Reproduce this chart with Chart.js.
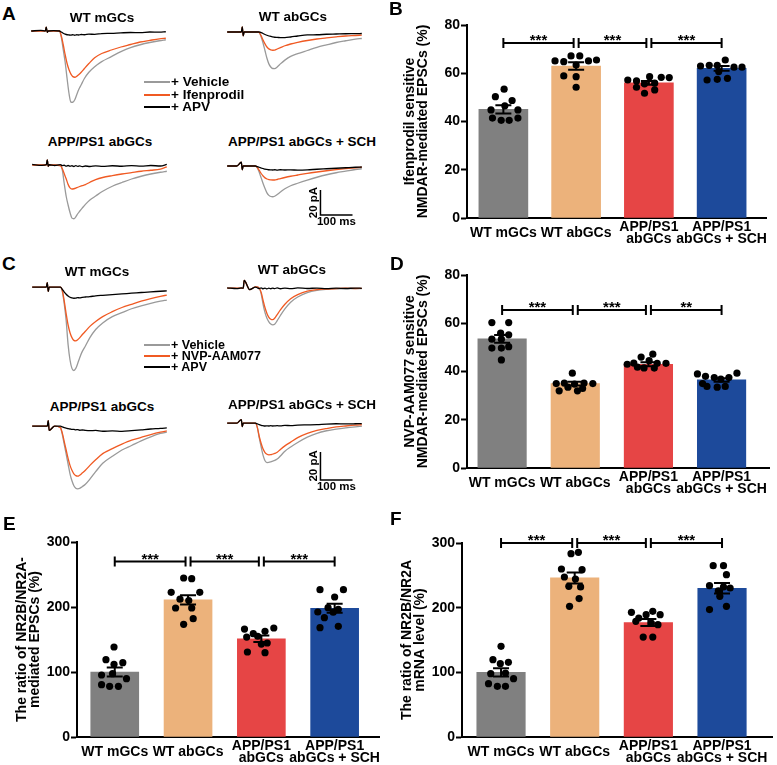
<!DOCTYPE html>
<html lang="en">
<head>
<meta charset="UTF-8">
<title>NR2B/NR2A EPSCs</title>
<script src="https://cdn.jsdelivr.net/npm/chart.js@4.4.1/dist/chart.umd.min.js"></script>
<style>
  body { margin: 0; background: #fff; }
  .fig { position: relative; width: 777px; height: 765px; overflow: hidden;
         font-family: "Liberation Sans", Arial, sans-serif; font-weight: bold; color: #000; }
  .fig canvas { position: absolute; }
  .letter { position: absolute; font-size: 19px; line-height: 1; }
  .title { position: absolute; font-size: 13.5px; line-height: 1; white-space: nowrap; transform: translate(-50%, -50%); }
  .leg { position: absolute; left: 144px; height: 14px; display: flex; align-items: center; white-space: nowrap; line-height: 1; }
  .leg i { display: inline-block; width: 26px; height: 2.5px; margin-right: 1px; }
</style>
</head>
<body>
<div class="fig">
  <canvas id="a1" width="141" height="90" style="left:28px;top:21px"></canvas>
  <canvas id="a2" width="141" height="90" style="left:224px;top:22px"></canvas>
  <canvas id="a3" width="141" height="90" style="left:29px;top:155px"></canvas>
  <canvas id="a4" width="141" height="90" style="left:224px;top:156px"></canvas>
  <canvas id="c1" width="141" height="98" style="left:29px;top:276px"></canvas>
  <canvas id="c2" width="141" height="98" style="left:224px;top:277px"></canvas>
  <canvas id="c3" width="141" height="98" style="left:29px;top:415px"></canvas>
  <canvas id="c4" width="141" height="98" style="left:224px;top:412px"></canvas>

  <canvas id="chartB" width="387" height="250" style="left:390px;top:0px"></canvas>
  <canvas id="chartD" width="387" height="250" style="left:390px;top:250px"></canvas>
  <canvas id="chartE" width="390" height="265" style="left:0px;top:500px"></canvas>
  <canvas id="chartF" width="387" height="265" style="left:390px;top:500px"></canvas>

  <div class="letter" style="left:2px;top:4px">A</div>
  <div class="letter" style="left:389px;top:-1px">B</div>
  <div class="letter" style="left:2px;top:254px">C</div>
  <div class="letter" style="left:390px;top:254px">D</div>
  <div class="letter" style="left:3px;top:514px">E</div>
  <div class="letter" style="left:390px;top:509px">F</div>

  <div class="title" style="left:102px;top:18px">WT mGCs</div>
  <div class="title" style="left:293px;top:17px">WT abGCs</div>
  <div class="title" style="left:100px;top:142px">APP/PS1 abGCs</div>
  <div class="title" style="left:302px;top:142px">APP/PS1 abGCs + SCH</div>
  <div class="title" style="left:97px;top:272px">WT mGCs</div>
  <div class="title" style="left:292px;top:270px">WT abGCs</div>
  <div class="title" style="left:102px;top:407px">APP/PS1 abGCs</div>
  <div class="title" style="left:302px;top:405px">APP/PS1 abGCs + SCH</div>

  <div class="leg" style="top:75px;font-size:13.5px"><i style="background:#9a9a9a"></i>+ Vehicle</div>
  <div class="leg" style="top:88px;font-size:13.5px"><i style="background:#f05a23"></i>+ Ifenprodil</div>
  <div class="leg" style="top:100px;font-size:13.5px"><i style="background:#000"></i>+ APV</div>
  <div class="leg" style="top:338px;font-size:12.5px"><i style="background:#9a9a9a"></i>+ Vehicle</div>
  <div class="leg" style="top:349px;font-size:12.5px"><i style="background:#f05a23"></i>+ NVP-AAM077</div>
  <div class="leg" style="top:360px;font-size:12.5px"><i style="background:#000"></i>+ APV</div>
</div>

<script>
// ---- trace data (time in ms, current in pA) ----
const traceTime = [0, 30, 44, 47, 50, 53, 70, 88, 94, 100, 106, 112, 118, 124, 130, 136, 142, 148, 156, 166, 180, 198, 220, 250, 280, 310, 340, 370, 400, 420];

// A: ifenprodil
const aWtmVeh  = [0, 0, 0, 3, -1, 0, 0, 0, -5, -15, -25, -38, -50, -57, -57, -55, -51, -47, -43, -38, -33, -28.6, -24.5, -20.5, -16.5, -13.3, -11, -9.2, -7.8, -7];
const aWtmIfen = [0, 0, 0, 3, -1, 0, 0, 0, -4, -11, -19, -26, -31, -34.5, -36.5, -37, -36.3, -35, -33, -30, -26, -21.4, -18, -15.2, -12.8, -10.8, -8.8, -7.5, -6.3, -5.8];
const aWtmApv  = [0, 0.5, 0, 3, -1, 0, 0.3, 0, -0.8, -1.8, -2.5, -3, -3.2, -3.3, -3, -3.4, -3, -3.2, -2.8, -3, -2.5, -2.7, -2.1, -1.9, -1.5, -1.2, -1.3, -0.8, -0.9, -0.6];

const aWtaVeh  = [0, 0, 0, 4, -3, 0, 0, 0, 0, -0.5, -4, -9, -15, -21, -25.5, -28, -29.2, -29.3, -28, -25.5, -22.5, -19.5, -17.3, -14.8, -12.3, -10.3, -8.4, -7, -5.7, -5.2];
const aWtaIfen = [0, 0, 0, 4, -3, 0, 0, 0, 0, -0.5, -3, -6.5, -9.5, -12, -13.5, -14.3, -14.6, -14.5, -13.6, -12.5, -11, -9.6, -8.3, -6.8, -5.6, -4.7, -3.9, -3.2, -2.8, -2.5];
const aWtaApv  = [0, 0, 0, 4, -3, 0, 0, 0, 0, 0, -0.5, -1.2, -2, -2.6, -3.2, -3.5, -3.9, -4.2, -4.3, -4.5, -4.5, -4, -3.2, -2.3, -2.2, -1.8, -1.6, -1.4, -1.3, -1.2];

const aAppVeh  = [0, 0, 0, 4, -1, 0, 0, -0.5, -4, -15, -25, -32, -38, -42.5, -43, -41.5, -39, -37, -34.5, -31.5, -28, -24.8, -21, -17, -14, -11.2, -9, -7.2, -5.8, -5];
const aAppIfen = [0, 0, 0, 4, -1, 0, 0, -0.5, -3, -7, -11, -15.5, -18.3, -19.2, -19, -18.5, -17.8, -17.2, -16.5, -15.7, -13.8, -11.7, -10, -8.5, -7.2, -6.1, -5, -4.2, -3.3, -1.5];
const aAppApv  = [0.5, -0.3, 0.3, 4, -1, 0.2, -0.4, 0.3, -0.5, -0.2, -0.9, -0.4, -1, -0.6, -1.2, -0.5, -1.1, -0.7, -1.3, -0.8, -1.2, -0.7, -1.1, -0.6, -1, -0.5, -0.9, -0.4, -0.8, 0.5];

const aSchVeh  = [0, 0, 3, -3, 0, 0, 0, 0, -1.5, -5, -9.5, -14, -18, -21.5, -23.5, -24.4, -24.6, -24.2, -22.8, -20.8, -18.2, -15.8, -13.8, -11.3, -9, -7, -5.4, -4.1, -2.8, -2.2];
const aSchIfen = [0, 0, 3, -3, 0, 0, 0, 0, -1.2, -3.5, -6, -8, -9.5, -10.4, -10.9, -11.1, -11.2, -11.2, -10.8, -10.1, -9.2, -8.2, -7.2, -5.9, -4.8, -3.8, -2.9, -2.1, -1.4, -1];
const aSchApv  = [0, 0, 3, -3, 0, 0, 0, 0, -0.5, -1, -1.6, -2, -2.5, -2.7, -3, -3.1, -3.2, -3, -3.3, -3, -3.2, -3.1, -3.3, -3.1, -2.6, -2.2, -1.8, -1.4, -1, -0.8];

// C: NVP-AAM077
const cWtmVeh = [0, 0, 0, 3.3, -3, 0, 0, 0, -3, -12, -24, -41, -52, -58, -59.5, -58, -54.5, -50.5, -46, -42, -36, -30.2, -25.5, -21, -18.2, -15.4, -13.3, -11.5, -10, -9.2];
const cWtmNvp = [0, 0, 0, 3.3, -3, 0, 0, 0, -2.5, -10, -19, -27, -32.5, -36, -38, -38.3, -37.5, -36.2, -34, -31.5, -28, -24.5, -21, -17.5, -14.5, -12.2, -10, -8.2, -6.6, -5.6];
const cWtmApv = [0, 0, 0, 3.3, -3, 0, 0, 0, -1.5, -3.5, -5, -6.3, -7.2, -7.7, -7.9, -7.8, -7.5, -7.6, -7.2, -7, -6.7, -6.2, -5.8, -5.3, -4.8, -4.3, -3.8, -3.3, -2.9, -2.6];

const cWtaVeh = [0, 0, 0, 0, 0, 5.5, -1, 1, 1, 0, -4, -11.5, -17.5, -21.5, -24, -25.6, -26.2, -25.8, -23.2, -19.5, -14.8, -10, -6.3, -3.1, -1.5, -0.8, -0.5, -0.3, -0.3, -0.2];
const cWtaNvp = [0, 0, 0, 0, 0, 5.5, -1, 1, 1, 0, -3, -8.8, -14, -18, -20.8, -22.2, -22.5, -21.5, -18.8, -15.5, -11.5, -7.5, -4.6, -2.1, -1, -0.6, -0.3, 0, -0.2, -0.1];
const cWtaApv = [0.3, -0.3, 0.2, 0, 0, 5.5, -1, 0.8, 0.3, -0.3, 0.2, -0.4, 0.1, -0.5, 0, -0.4, 0.1, -0.3, 0.2, -0.4, 0, -0.3, 0.2, -0.2, 0.1, -0.3, 0, -0.2, 0.1, -0.1];

const cAppVeh = [0, 0, 0, 0, 4, -3, 0, -1, -6, -13, -20, -27, -34, -39, -42.5, -44.3, -44.7, -44.4, -43.2, -41.5, -37.8, -32.5, -26.5, -21.5, -17, -13.8, -10.5, -7.6, -5.2, -4.2];
const cAppNvp = [0, 0, 0, 0, 4, -3, 0, -1, -5, -11, -17, -23, -28, -31.5, -34, -35.3, -35.7, -35, -33.5, -31.5, -28, -24, -19.6, -16, -12.8, -10, -8, -6, -4.3, -3.4];
const cAppApv = [0, 0, 0, 0, 4, -3, 0, 0, -0.5, -1, -1.3, -1.8, -2, -2.3, -2.2, -2.6, -2.4, -2.9, -2.7, -3, -3.2, -3, -3.6, -3.3, -3.7, -3.2, -2.6, -2, -1.6, -1.2];

const cSchVeh = [0, 0, 2.5, -2.5, 0, 0, 0, 0, -3, -10.5, -17, -23, -26.8, -28.1, -28, -27.6, -27.1, -26.6, -25.6, -23.4, -20, -17, -13.8, -10, -7.2, -5.4, -4.2, -3.3, -2.6, -2.2];
const cSchNvp = [0, 0, 2.5, -2.5, 0, 0, 0, 0, -3, -9.5, -14.5, -18.5, -21, -22.2, -22.6, -22.5, -22, -21.6, -20.8, -18.7, -16.2, -13.5, -10.3, -7.3, -5.2, -3.8, -2.7, -2, -1.4, -1.1];
const cSchApv = [0, 0, 2.5, -2.5, 0, 0, 0, 0, -0.5, -1, -1.5, -1.8, -2, -1.9, -2, -1.8, -2, -1.9, -1.8, -1.9, -1.6, -1.7, -1.4, -1.2, -1, -0.6, -0.4, -0.5, -0.4, -0.3];

const scaleBarMs = 100;
const scaleBarPa = 20;

// ---- bar panels ----
const groupLabels = ['WT mGCs', 'WT abGCs', ['APP/PS1', 'abGCs'], ['APP/PS1', 'abGCs + SCH']];

const ifenMean = [45, 63, 56, 62];
const ifenSem = [1.7, 1.6, 0.8, 1.0];
const ifenDots = [
  [53.4, 50.3, 48.7, 46.5, 44.8, 44.8, 41.4, 40.5, 40.5, 41.4],
  [65.1, 67.2, 67.2, 65.1, 65.5, 64.8, 63.4, 58.9, 58.6, 54.2],
  [57.2, 56.8, 58.6, 58.3, 58.2, 55.6, 55.9, 54.2, 51.7, 53.1],
  [63, 63.3, 63.3, 65.5, 62.5, 62.5, 60.7, 57.2, 57.5, 57.9]
];
const ifenJitter = [
  [0.01, -0.11, 0.12, 0.02, -0.17, 0.2, -0.15, -0.03, 0.08, 0.2],
  [-0.29, -0.07, 0.05, 0.17, 0.28, -0.17, 0, -0.17, 0, 0],
  [-0.29, -0.17, 0.01, 0.17, 0.28, -0.06, 0.08, -0.17, -0.06, 0.08],
  [-0.29, -0.17, -0.06, 0.05, 0.17, 0.28, -0.04, -0.2, -0.06, 0.08]
];
const ifenStars = ['***', '***', '***'];

const nvpMean = [53.5, 35, 43, 36.5];
const nvpSem = [1.6, 0.8, 0.8, 0.7];
const nvpDots = [
  [60.3, 60.3, 55.9, 55.2, 53.4, 53.4, 50.3, 49.7, 49.7, 44.8],
  [39.3, 35, 35.2, 34.8, 35.2, 35, 33.5, 33, 32, 32],
  [47.2, 46, 44.5, 43.5, 43.4, 43.4, 43, 41.5, 41.4, 41.8],
  [39, 38, 37.5, 36.8, 37.5, 39.3, 35, 33.8, 33.5, 33.8]
];
const nvpJitter = [
  [-0.14, 0.09, -0.02, 0.09, -0.14, -0.01, 0.09, -0.14, -0.01, -0.01],
  [-0.04, -0.26, -0.15, -0.01, 0.12, 0.24, -0.1, 0.1, -0.22, 0.03],
  [0.06, -0.1, 0.01, -0.2, 0.12, 0.24, -0.29, -0.06, 0.08, -0.15],
  [-0.33, -0.22, -0.1, -0.01, 0.1, 0.21, -0.26, -0.2, -0.06, 0.05]
];
const nvpStars = ['***', '***', '**'];

const epscMean = [100, 211, 151, 198];
const epscSem = [7, 7, 5, 7];
const epscDots = [
  [138.5, 119, 111.8, 114.4, 95.4, 97.4, 89.7, 80.5, 77.9, 77.9],
  [244.6, 243.6, 222.6, 222.6, 212, 210, 198.5, 198.5, 182, 173.3],
  [166, 159, 162.6, 167.7, 153.8, 155, 144.6, 143, 130.8, 129.7],
  [226.7, 226.7, 215.4, 199, 196.4, 192.3, 192, 183.6, 168.2, 170.3]
];
const epscJitter = [
  [-0.01, -0.12, -0.01, 0.11, -0.18, -0.03, 0.16, -0.18, -0.07, 0.05],
  [-0.06, 0.05, -0.23, 0.16, -0.11, 0.01, -0.17, 0.05, 0.07, -0.06],
  [-0.23, -0.11, 0.05, 0.17, -0.2, -0.05, 0.08, 0, -0.19, 0.05],
  [-0.2, 0.12, 0, -0.09, 0.05, -0.23, -0.02, -0.14, -0.2, 0.05]
];
const epscStars = ['***', '***', '***'];

const mrnaMean = [100, 246, 177, 230];
const mrnaSem = [6.5, 8.5, 5.5, 8];
const mrnaDots = [
  [140.2, 119.6, 115.5, 113.4, 97.9, 99, 90.2, 82.5, 78.4, 78.4],
  [283.5, 285.6, 259.8, 258.8, 247.4, 244.3, 233, 232, 214, 202],
  [192.8, 184, 189.2, 194.3, 189.2, 178.9, 176.3, 173.7, 154.6, 154.6],
  [265, 265, 251, 234, 232, 230.4, 226, 217.5, 202, 197]
];
const mrnaJitter = [
  [0, -0.11, 0.1, -0.01, -0.14, 0.06, 0.17, -0.17, -0.05, 0.06],
  [-0.05, 0.05, -0.18, 0.1, -0.14, 0.01, -0.08, 0.08, 0.06, -0.07],
  [-0.23, -0.13, -0.03, 0.06, 0.16, -0.17, 0.04, 0.13, -0.07, 0.06],
  [-0.12, 0.02, 0.06, -0.17, 0.02, 0.11, -0.05, -0.03, 0.06, -0.17]
];
const mrnaStars = ['***', '***', '***'];

// ---- styles ----
const FONT = '"Liberation Sans", Arial, sans-serif';
const colVehicle = '#9a9a9a';
const colDrug = '#f05a23';
const barColors = ['#808080', '#ecb27b', '#e64545', '#1d4a9b'];

Chart.defaults.font.family = FONT;
Chart.defaults.font.weight = 'bold';
Chart.defaults.color = '#000';

function scaleBarLabels(anchor) {
  return {
    id: 'sbar',
    afterDatasetsDraw(chart) {
      const {ctx, scales: {x, y}} = chart;
      const x0 = x.getPixelForValue(anchor.t), x1 = x.getPixelForValue(anchor.t + scaleBarMs);
      const y0 = y.getPixelForValue(anchor.v), y1 = y.getPixelForValue(anchor.v + scaleBarPa);
      ctx.save();
      ctx.fillStyle = '#000';
      ctx.font = 'bold 11.5px ' + FONT;
      ctx.textAlign = 'center';
      ctx.textBaseline = 'middle';
      ctx.fillText(scaleBarMs + ' ms', (x0 + x1) / 2, y0 + 7);
      ctx.translate(x0 - 7, (y0 + y1) / 2);
      ctx.rotate(-Math.PI / 2);
      ctx.fillText(scaleBarPa + ' pA', 0, 0);
      ctx.restore();
    }
  };
}

function tracePanel(id, veh, drug, apv, yMin, bar) {
  const pts = arr => traceTime.map((t, i) => ({x: t, y: arr[i]}));
  const sets = [
    {data: pts(apv), borderColor: '#000'},
    {data: pts(drug), borderColor: colDrug},
    {data: pts(veh), borderColor: colVehicle}
  ].map(s => Object.assign({borderWidth: 1.3, pointRadius: 0, cubicInterpolationMode: 'monotone', clip: false}, s));
  const plugins = [];
  if (bar) {
    sets.unshift({
      data: [{x: bar.t, y: bar.v + scaleBarPa}, {x: bar.t, y: bar.v}, {x: bar.t + scaleBarMs, y: bar.v}],
      borderColor: '#000', borderWidth: 1.5, pointRadius: 0, tension: 0, clip: false
    });
    plugins.push(scaleBarLabels(bar));
  }
  new Chart(document.getElementById(id), {
    type: 'line',
    data: {datasets: sets},
    options: {
      responsive: false, animation: false, devicePixelRatio: 1, events: [],
      layout: {padding: 0},
      plugins: {legend: {display: false}, tooltip: {enabled: false}},
      scales: {
        x: {type: 'linear', display: false, min: -10, max: 430},
        y: {display: false, min: yMin, max: 8}
      }
    },
    plugins: plugins
  });
}

tracePanel('a1', aWtmVeh, aWtmIfen, aWtmApv, -64);
tracePanel('a2', aWtaVeh, aWtaIfen, aWtaApv, -64);
tracePanel('a3', aAppVeh, aAppIfen, aAppApv, -64);
tracePanel('a4', aSchVeh, aSchIfen, aSchApv, -64, {t: 291, v: -39.2});
tracePanel('c1', cWtmVeh, cWtmNvp, cWtmApv, -62);
tracePanel('c2', cWtaVeh, cWtaNvp, cWtaApv, -62);
tracePanel('c3', cAppVeh, cAppNvp, cAppApv, -62);
tracePanel('c4', cSchVeh, cSchNvp, cSchApv, -62, {t: 291, v: -40.5});

// error bars and significance brackets
function marks(p) {
  return {
    id: 'marks',
    afterDatasetsDraw(chart) {
      const {ctx, scales: {x, y}} = chart;
      ctx.save();
      ctx.strokeStyle = '#000';
      ctx.fillStyle = '#000';
      ctx.lineWidth = 2;
      p.mean.forEach((m, i) => {
        const px = x.getPixelForValue(i);
        const hi = y.getPixelForValue(m + p.sem[i]);
        const lo = y.getPixelForValue(m - p.sem[i]);
        ctx.beginPath();
        ctx.moveTo(px, hi); ctx.lineTo(px, lo);
        ctx.moveTo(px - 8, hi); ctx.lineTo(px + 8, hi);
        ctx.moveTo(px - 8, lo); ctx.lineTo(px + 8, lo);
        ctx.stroke();
      });
      const by = y.getPixelForValue(p.bracketY);
      ctx.font = 'bold 15px ' + FONT;
      ctx.textAlign = 'center';
      ctx.textBaseline = 'alphabetic';
      p.stars.forEach((s, k) => {
        const a = x.getPixelForValue(k) + (k > 0 ? 2.5 : 0);
        const b = x.getPixelForValue(k + 1) - (k + 1 < p.mean.length - 1 ? 2.5 : 0);
        ctx.beginPath();
        ctx.moveTo(a, by - 5); ctx.lineTo(a, by + 5);
        ctx.moveTo(a, by); ctx.lineTo(b, by);
        ctx.moveTo(b, by - 5); ctx.lineTo(b, by + 5);
        ctx.stroke();
        ctx.fillText(s, (a + b) / 2, by + 2);
      });
      ctx.restore();
    }
  };
}

function barPanel(id, p) {
  const dots = [];
  p.dots.forEach((g, i) => g.forEach((v, j) => dots.push({x: i + p.jitter[i][j], y: v})));
  new Chart(document.getElementById(id), {
    type: 'bar',
    data: {
      datasets: [
        {type: 'scatter', data: dots, pointRadius: 3.6, pointBackgroundColor: '#000', pointBorderWidth: 0, order: 0, clip: false},
        {type: 'bar', data: p.mean.map((m, i) => ({x: i, y: m})), backgroundColor: barColors, barThickness: p.barW, order: 1}
      ]
    },
    options: {
      responsive: false, animation: false, devicePixelRatio: 1, events: [],
      layout: {padding: {top: p.top, right: p.right, bottom: 0, left: 0}},
      plugins: {legend: {display: false}, tooltip: {enabled: false}},
      scales: {
        x: {
          type: 'linear', min: p.xMin, max: p.xMax, offset: false,
          afterBuildTicks: s => { s.ticks = groupLabels.map((_, i) => ({value: i})); },
          afterFit: s => { s.height = p.xh; },
          grid: {display: false, drawTicks: false},
          border: {display: true, width: 2, color: '#000'},
          ticks: {
            callback: v => groupLabels[v], crossAlign: 'center', padding: 9,
            maxRotation: 0, autoSkip: false, color: '#000',
            font: {size: 14, weight: 'bold', lineHeight: 0.84}
          }
        },
        y: {
          min: 0, max: p.yMax,
          afterFit: s => { s.width = p.left; },
          ticks: {stepSize: p.step, padding: 1, color: '#000', font: {size: 14, weight: 'bold'}},
          grid: {drawOnChartArea: false, drawTicks: true, tickLength: 6, tickWidth: 2, tickColor: '#000'},
          border: {display: true, width: 2, color: '#000'},
          title: {display: true, text: p.title, color: '#000', padding: {top: p.titlePad, bottom: 0},
                  font: {size: 14, weight: 'bold', lineHeight: 0.95}}
        }
      }
    },
    plugins: [marks(p)]
  });
}

barPanel('chartB', {
  mean: ifenMean, sem: ifenSem, dots: ifenDots, jitter: ifenJitter, stars: ifenStars, bracketY: 72.5,
  yMax: 80, step: 20, xMin: -0.5, xMax: 3.62, barW: 49,
  left: 77, top: 25, right: 7, xh: 32, titlePad: 13.4,
  title: ['Ifenprodil sensitive', 'NMDAR-mediated EPSCs (%)']
});
barPanel('chartD', {
  mean: nvpMean, sem: nvpSem, dots: nvpDots, jitter: nvpJitter, stars: nvpStars, bracketY: 65.5,
  yMax: 80, step: 20, xMin: -0.48, xMax: 3.65, barW: 48.5,
  left: 77, top: 25, right: 7, xh: 32, titlePad: 13.4,
  title: ['NVP-AAM077 sensitive', 'NMDAR-mediated EPSCs (%)']
});
barPanel('chartE', {
  mean: epscMean, sem: epscSem, dots: epscDots, jitter: epscJitter, stars: epscStars, bracketY: 270,
  yMax: 300, step: 100, xMin: -0.515, xMax: 3.61, barW: 48,
  left: 77, top: 42, right: 7, xh: 28, titlePad: 15,
  title: ['The ratio of NR2B/NR2A-', 'mediated EPSCs (%)']
});
barPanel('chartF', {
  mean: mrnaMean, sem: mrnaSem, dots: mrnaDots, jitter: mrnaJitter, stars: mrnaStars, bracketY: 300,
  yMax: 300, step: 100, xMin: -0.53, xMax: 3.69, barW: 48.5,
  left: 72, top: 43, right: 4, xh: 28, titlePad: 10,
  title: ['The ratio of NR2B/NR2A', 'mRNA level (%)']
});
</script>
</body>
</html>
